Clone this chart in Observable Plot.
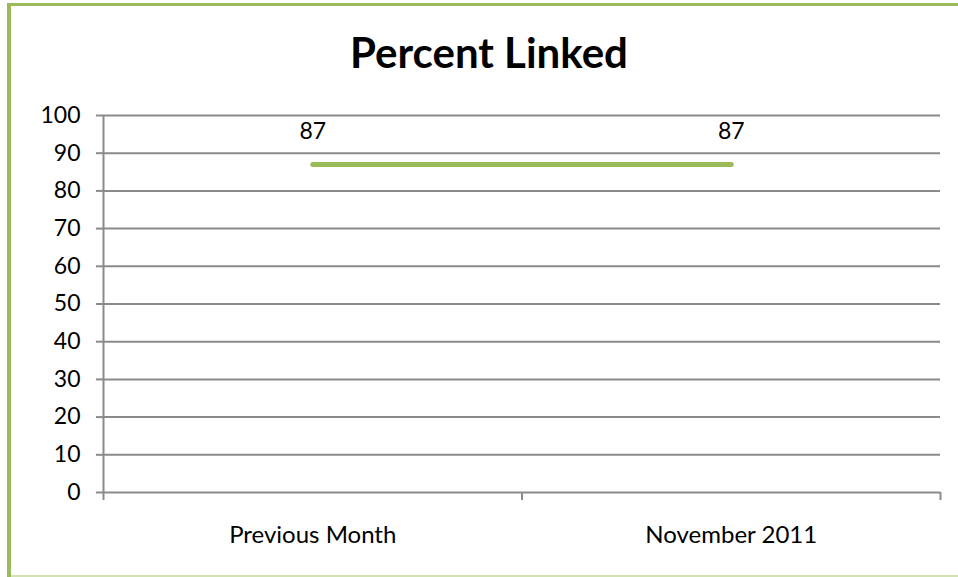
<!DOCTYPE html>
<html>
<head>
<meta charset="utf-8">
<script src="https://cdn.jsdelivr.net/npm/d3@7"></script>
<script src="https://cdn.jsdelivr.net/npm/@observablehq/plot@0.6"></script>
<style>
  html, body { margin: 0; padding: 0; background: #fff; }
  #wrap { position: relative; width: 958px; height: 577px; overflow: hidden; background: #fff; font-family: Lato, "Open Sans", sans-serif; }
  #title { position: absolute; left: 0; width: 978px; top: 31px; text-align: center; font-size: 42px; font-weight: bold; color: #000; line-height: 1; }
  #chart { position: absolute; left: 0; top: 0; }
  .bTop { position: absolute; left: 7px; top: 3px; width: 951px; height: 3px; background: #9bbb59; }
  .bLeft { position: absolute; left: 7px; top: 3px; width: 4px; height: 574px; background: #9bbb59; }
  .bBottom { position: absolute; left: 11px; top: 575px; width: 947px; height: 2px; background: #d2e2b4; }
</style>
</head>
<body>
<div id="wrap">
  <div id="chart"></div>
  <div id="title">Percent Linked</div>
  <div class="bTop"></div>
  <div class="bLeft"></div>
  <div class="bBottom"></div>
</div>
<script>
const categories = ["Previous Month", "November 2011"];
const values = [87, 87];
const yTicks = [0, 10, 20, 30, 40, 50, 60, 70, 80, 90, 100];

const data = categories.map((c, i) => ({pos: i + 0.5, label: c, value: values[i]}));
const boundaries = d3.range(categories.length + 1);
const centers = data.map(d => d.pos);

const gray = "#8a8a8a";
const font = "Lato, 'Open Sans', sans-serif";

const chart = Plot.plot({
  width: 958,
  height: 577,
  marginLeft: 103,
  marginRight: 18,
  marginTop: 115,
  marginBottom: 85,
  style: {fontFamily: font, fontSize: "23px", color: "#000", background: "transparent"},
  x: {type: "linear", domain: [0, categories.length], axis: null},
  y: {domain: [0, 100], axis: null},
  marks: [
    Plot.ruleY(yTicks, {stroke: gray, strokeWidth: 2, strokeOpacity: 1}),
    Plot.ruleX([0], {stroke: gray, strokeWidth: 2, y1: 0, y2: 100, inset: 0}),
    Plot.axisY({ticks: yTicks, tickSize: 7, tickPadding: 16, stroke: gray, strokeWidth: 2, strokeOpacity: 1, fontSize: 23, fill: "#000", label: null}),
    Plot.axisX({ticks: boundaries, tickSize: 8, tickFormat: () => "", stroke: gray, strokeWidth: 2, strokeOpacity: 1, label: null}),
    Plot.axisX({ticks: centers, tickSize: 0, tickPadding: 33, tickFormat: (d) => categories[Math.round(d - 0.5)], fontSize: 24, fill: "#000", label: null}),
    Plot.line(data, {x: "pos", y: "value", stroke: "#9bbb59", strokeWidth: 5, strokeLinecap: "round"}),
    Plot.text(data, {x: "pos", y: "value", text: d => String(d.value), dy: -33, fontSize: 23, fill: "#000"})
  ]
});
document.getElementById("chart").appendChild(chart);
</script>
</body>
</html>
